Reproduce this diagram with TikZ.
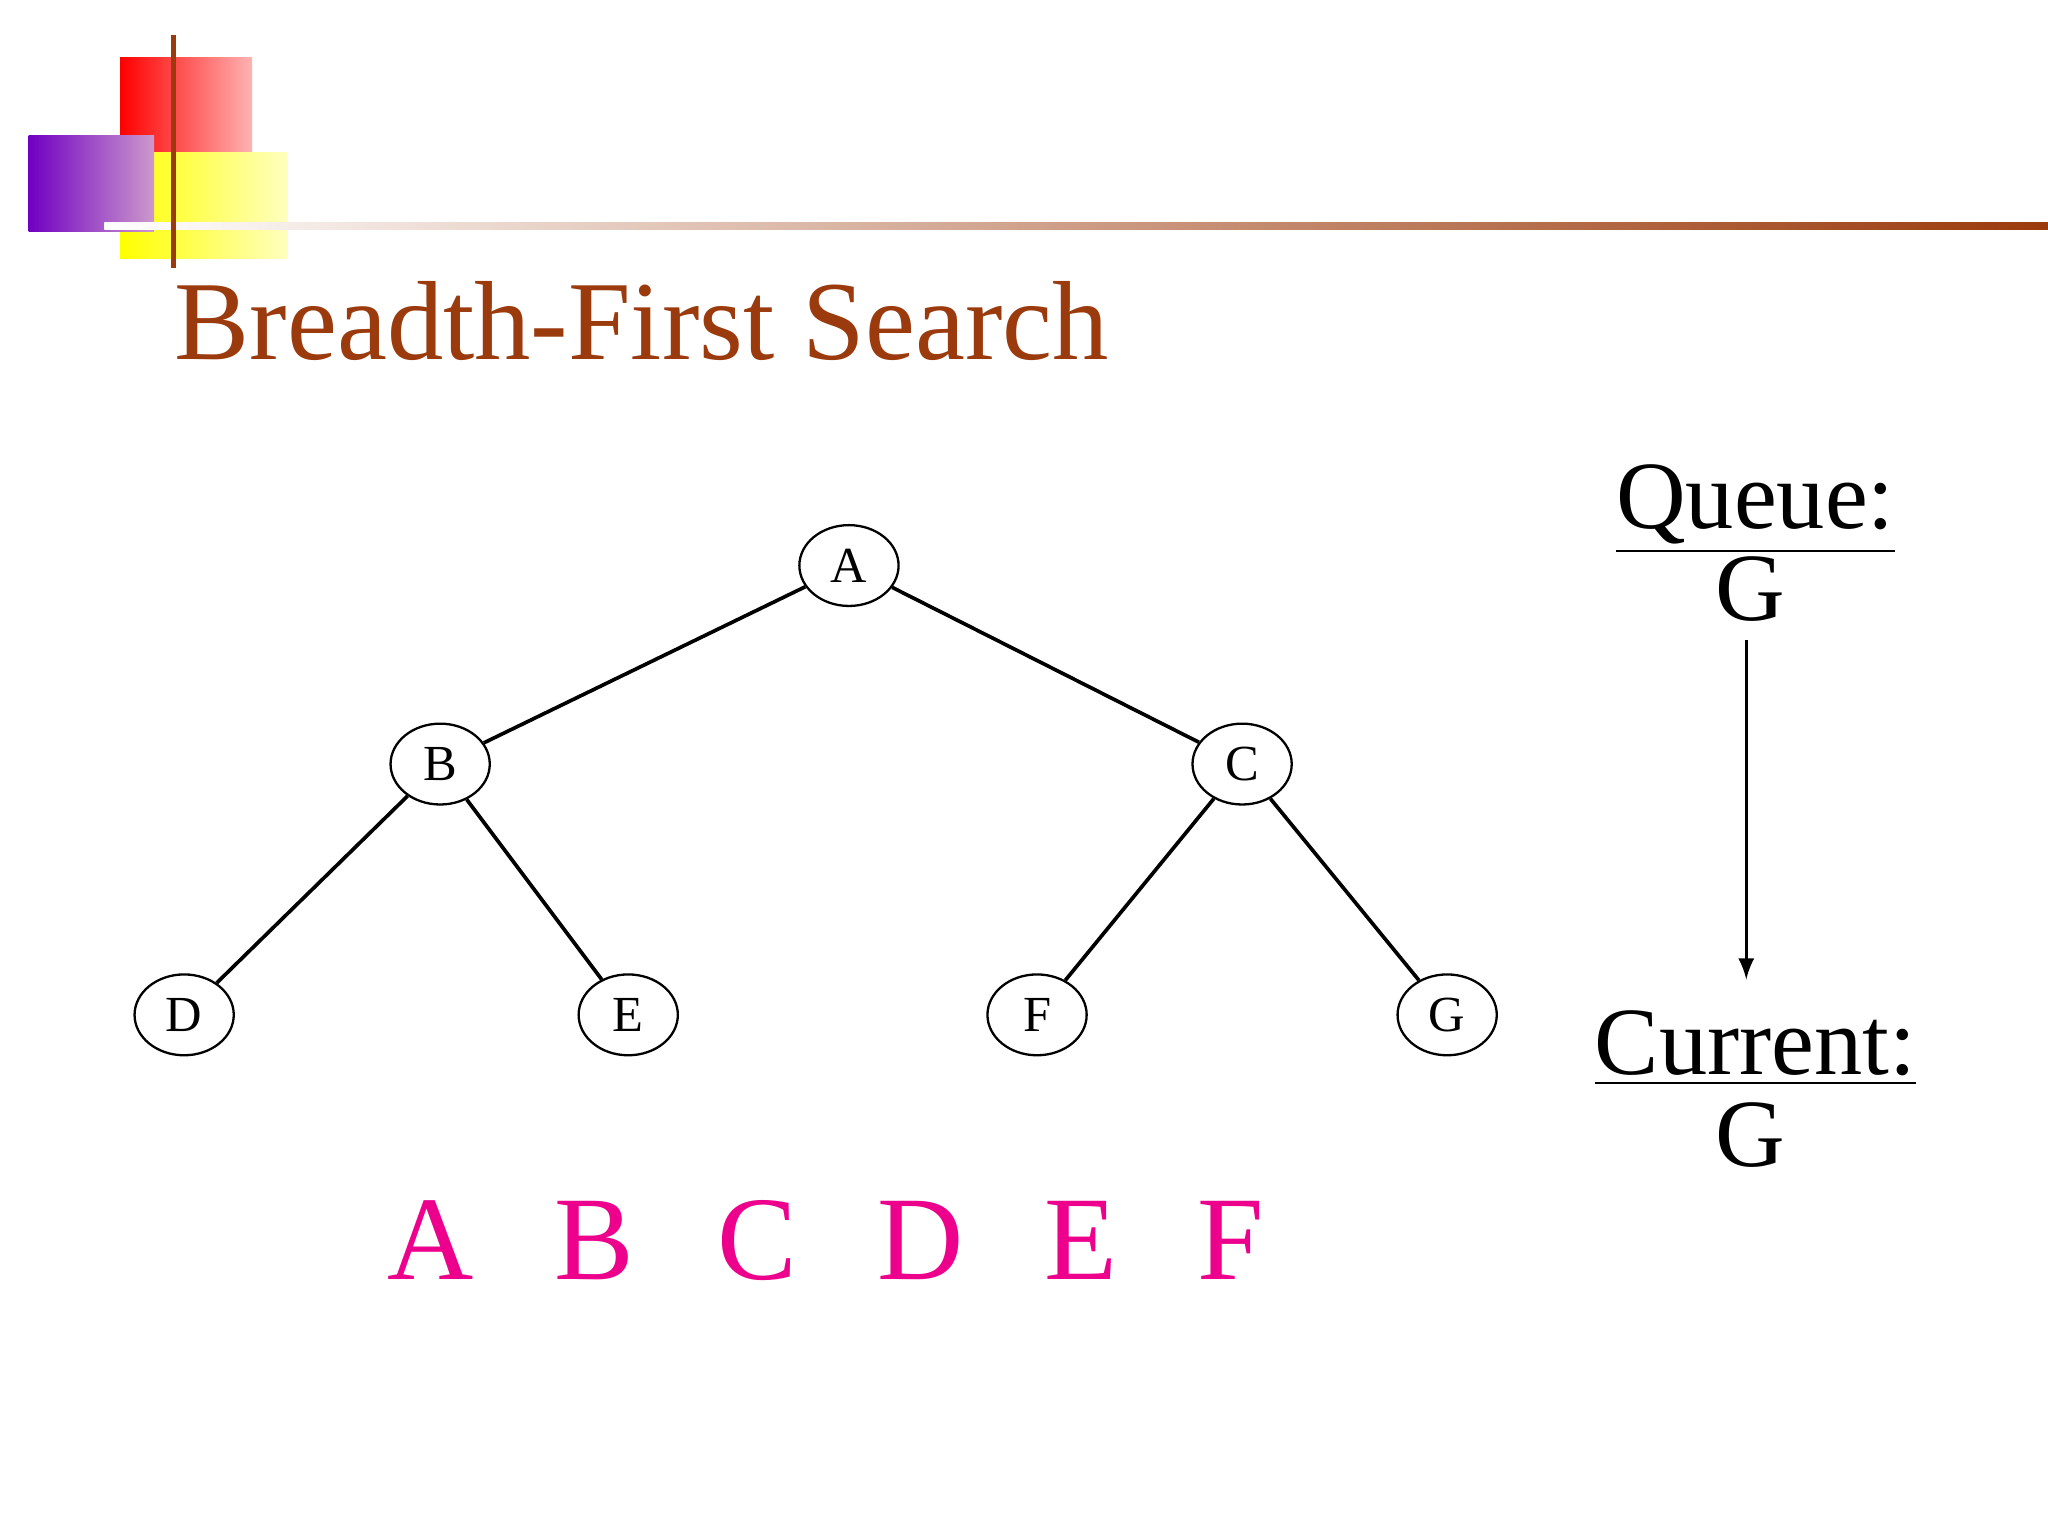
\documentclass[tikz,border=0pt]{standalone}
\usepackage{fontspec}
\setmainfont{Liberation Serif}
\usetikzlibrary{shapes.geometric}
\begin{document}
\begin{tikzpicture}[x=0.01cm,y=-0.01cm,
  nd/.style={draw,ellipse,line width=0.5pt,minimum width=21.6pt,minimum height=17.6pt,inner sep=0pt,font=\fontsize{11}{11}\selectfont},
  ed/.style={line width=0.8pt},
  mag/.style={anchor=base,text=magenta,font=\fontsize{26}{26}\selectfont},
  qt/.style={anchor=base,font=\fontsize{21}{21}\selectfont}]
\useasboundingbox (0,0) rectangle (1568,1176);
\definecolor{brn}{HTML}{9B3A0C}
% decoration
\shade[left color=red,right color=red!30!white] (92,44) rectangle (193,117);
\shade[left color=yellow,right color=yellow!25!white] (92,117) rectangle (220,198);
\shade[left color=violet!60!blue!80!magenta,right color=violet!40!white] (22,104) rectangle (118,177);
\shade[left color=white,right color=brn] (80,170) rectangle (1568,176);
\fill[brn] (131,27) rectangle (135,205);
\node[anchor=base west,text=brn,inner sep=0pt,font=\fontsize{24.5}{24.5}\selectfont] (title) at (133,275) {Breadth-First Search};
% tree
\foreach \n/\x/\y in {A/650/433,B/337/585,C/951/585,D/141/777,E/481/777,F/794/777,G/1108/777}
  \node[nd] (\n) at (\x,\y) {\n};
\draw[ed] (A) -- (B);
\draw[ed] (A) -- (C);
\draw[ed] (B) -- (D);
\draw[ed] (B) -- (E);
\draw[ed] (C) -- (F);
\draw[ed] (C) -- (G);
% queue
\node[qt] (q) at (1344,405) {\underline{Queue:}};
\node[qt] (qg) at (1340,475) {G};
\node[qt] (cur) at (1344,823) {\underline{Current:}};
\node[qt] (cg) at (1340,893) {G};
\coordinate (a1) at (1337,490);
\coordinate (a2) at (1337,750);
\draw[-latex,line width=0.6pt] (a1) -- (a2);
% visited
\foreach \l/\x in {A/330,B/455,C/580,D/705,E/828,F/942}
  \node[mag] (v\l) at (\x,980) {\l};
\end{tikzpicture}
\end{document}
